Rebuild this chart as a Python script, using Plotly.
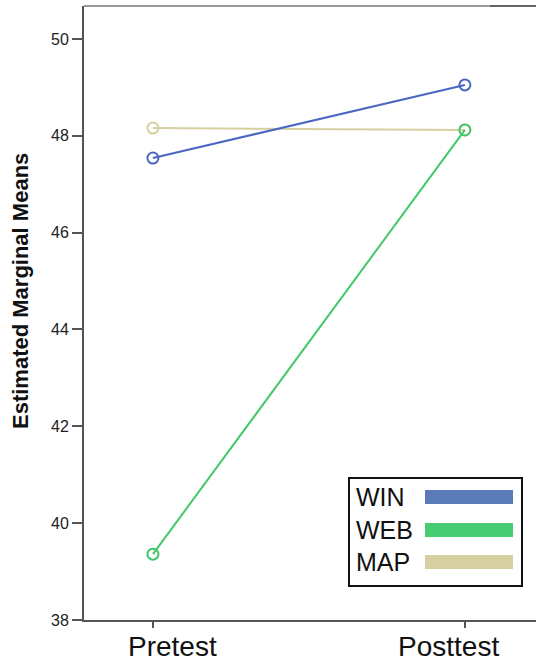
import plotly.graph_objects as go

categories = ["Pretest", "Posttest"]
win = [47.54, 49.05]
web = [39.36, 48.12]
map_ = [48.16, 48.12]
series_names = ["WIN", "WEB", "MAP"]
colors = ["#4a68c2", "#44c76a", "#d6cfa2"]
legend_colors = ["#5b7ab8", "#47cc74", "#d6cfa2"]
y_ticks = [38, 40, 42, 44, 46, 48, 50]

fig = go.Figure()
for name, vals, col in [("MAP", map_, colors[2]), ("WIN", win, colors[0]), ("WEB", web, colors[1])]:
    fig.add_trace(go.Scatter(
        x=[0, 1], y=vals, mode="lines+markers", name=name,
        line=dict(color=col, width=2),
        marker=dict(symbol="circle-open", size=11, color=col, line=dict(width=2, color=col)),
        showlegend=False, cliponaxis=False, hoverinfo="skip",
    ))

fig.update_layout(
    width=536, height=664,
    margin=dict(l=84, r=0, t=6, b=44),
    paper_bgcolor="white", plot_bgcolor="white",
    font=dict(family="Liberation Sans, Arial, sans-serif", color="#222"),
    xaxis=dict(
        range=[-0.221, 1.228], tickmode="array", tickvals=[0, 1], ticktext=["", ""],
        ticks="outside", ticklen=6, tickwidth=2,
        tickcolor="#555", showline=True, linecolor="#555", linewidth=2,
        showgrid=False, zeroline=False, fixedrange=True, automargin=False,
    ),
    yaxis=dict(
        range=[38, 50.68], tickmode="array", tickvals=y_ticks,
        ticktext=[str(t) for t in y_ticks],
        tickfont=dict(size=16, color="#222"), ticks="outside", ticklen=10, tickwidth=2,
        tickcolor="#555", showline=True, linecolor="#555", linewidth=2,
        showgrid=False, zeroline=False, automargin=False, fixedrange=True,
    ),
)

def px_x(x):
    return (x - 84) / 452.0

def px_y(y):
    return (620 - y) / 614.0

# category labels (offset from ticks, as in the reference)
for cat, cx in zip(categories, [172, 448]):
    fig.add_annotation(text=cat, xref="paper", yref="paper", x=px_x(cx), y=px_y(646),
                       xanchor="center", yanchor="middle", showarrow=False,
                       font=dict(size=28, color="#111"))

# y axis title
fig.add_annotation(text="<b>Estimated Marginal Means</b>", xref="paper", yref="paper",
                   x=px_x(20), y=px_y(291), textangle=-90, showarrow=False,
                   xanchor="center", yanchor="middle",
                   font=dict(size=22, color="#111"))

# top border
fig.add_shape(type="line", xref="paper", yref="paper", x0=0, x1=1, y0=1, y1=1,
              line=dict(color="#999", width=2))
fig.add_shape(type="line", xref="paper", yref="paper", x0=px_x(490), x1=1, y0=1, y1=1,
              line=dict(color="#666", width=2))

# legend box
fig.add_shape(type="rect", xref="paper", yref="paper",
              x0=px_x(349), x1=px_x(522), y0=px_y(586), y1=px_y(478),
              line=dict(color="#111", width=2), fillcolor="white")
rows = [497, 530, 562]
for name, col, yy in zip(series_names, legend_colors, rows):
    fig.add_shape(type="rect", xref="paper", yref="paper",
                  x0=px_x(425), x1=px_x(513), y0=px_y(yy + 7), y1=px_y(yy - 7),
                  line=dict(width=0), fillcolor=col)
    fig.add_annotation(text=name, xref="paper", yref="paper", x=px_x(354), y=px_y(yy),
                       xanchor="left", yanchor="middle", showarrow=False,
                       font=dict(size=25, color="#111"))

fig.write_html("out.html", config={"displayModeBar": False},
               post_script="document.body.style.margin='0';document.body.style.padding='0';")
